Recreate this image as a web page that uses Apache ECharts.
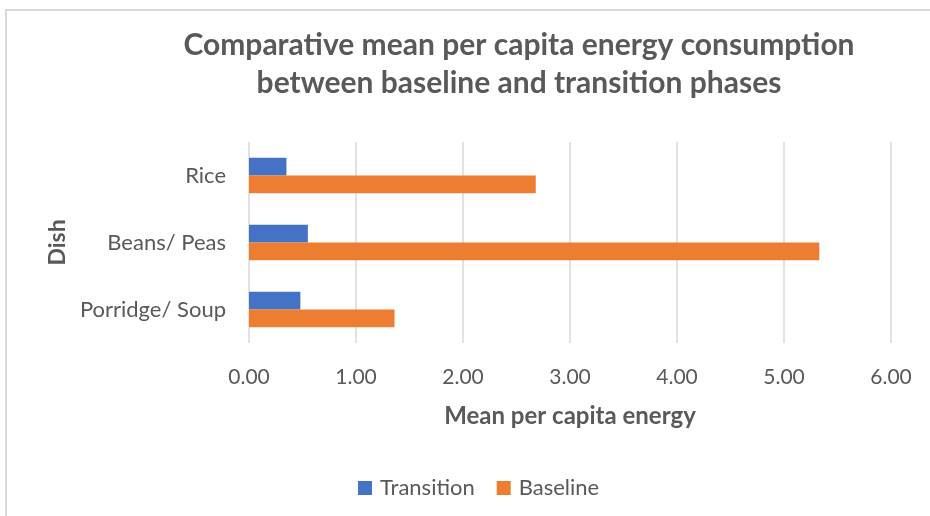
<!DOCTYPE html>
<html>
<head>
<meta charset="utf-8">
<script src="https://cdn.jsdelivr.net/npm/echarts@6/dist/echarts.min.js"></script>
<style>
  html, body { margin: 0; padding: 0; background: #ffffff; }
  #chart { width: 930px; height: 516px; }
</style>
</head>
<body>
<div id="chart"></div>
<script>
// Dishes, listed bottom to top along the category axis
const dishes = ['Porridge/ Soup', 'Beans/ Peas', 'Rice'];
// Mean per capita energy for each phase
const transitionValues = [0.48, 0.55, 0.35];
const baselineValues = [1.36, 5.33, 2.68];
const seriesNames = ['Transition', 'Baseline'];

const FONT = 'Lato, "Open Sans", sans-serif';
const GREY = '#595959';

const chart = echarts.init(document.getElementById('chart'), null, { renderer: 'canvas' });

chart.setOption({
  backgroundColor: '#ffffff',
  animation: false,
  title: {
    text: 'Comparative mean per capita energy consumption\nbetween baseline and transition phases',
    left: 514,
    top: 21,
    textAlign: 'center',
    textStyle: {
      fontFamily: FONT,
      fontWeight: 'bold',
      fontSize: 30,
      lineHeight: 38,
      color: GREY
    }
  },
  graphic: [{
    type: 'rect',
    shape: { x: 6, y: 10, width: 940, height: 520 },
    style: { fill: 'none', stroke: '#d9d9d9', lineWidth: 2 },
    silent: true
  }],
  legend: {
    data: seriesNames,
    left: 353,
    top: 472,
    itemWidth: 14,
    itemHeight: 14,
    itemGap: 22,
    icon: 'rect',
    textStyle: { fontFamily: FONT, fontSize: 22, color: GREY, padding: [0, 0, 0, 3] }
  },
  grid: { left: 249, right: 39, top: 142, bottom: 173 },
  xAxis: {
    type: 'value',
    min: 0,
    max: 6,
    interval: 1,
    name: 'Mean per capita energy',
    nameLocation: 'middle',
    nameGap: 61,
    nameTextStyle: { fontFamily: FONT, fontWeight: 'bold', fontSize: 24, color: GREY },
    axisLine: { show: false },
    axisTick: { show: false },
    axisLabel: {
      margin: 24,
      formatter: v => v.toFixed(2),
      fontFamily: FONT,
      fontSize: 21,
      color: GREY
    },
    splitLine: { lineStyle: { color: '#d9d9d9', width: 1.5 } }
  },
  yAxis: {
    type: 'category',
    data: dishes,
    name: 'Dish',
    nameLocation: 'middle',
    nameGap: 180,
    nameRotate: 90,
    nameTextStyle: { fontFamily: FONT, fontWeight: 'bold', fontSize: 23, color: GREY },
    axisLine: { show: false },
    axisTick: { show: false },
    axisLabel: { margin: 23, fontFamily: FONT, fontSize: 22, color: GREY }
  },
  series: [
    {
      name: 'Transition',
      type: 'bar',
      data: transitionValues,
      barGap: '0%',
      barCategoryGap: '47%',
      itemStyle: { color: '#4472C4' }
    },
    {
      name: 'Baseline',
      type: 'bar',
      data: baselineValues,
      barGap: '0%',
      barCategoryGap: '47%',
      itemStyle: { color: '#ED7D31' }
    }
  ]
});
</script>
</body>
</html>
